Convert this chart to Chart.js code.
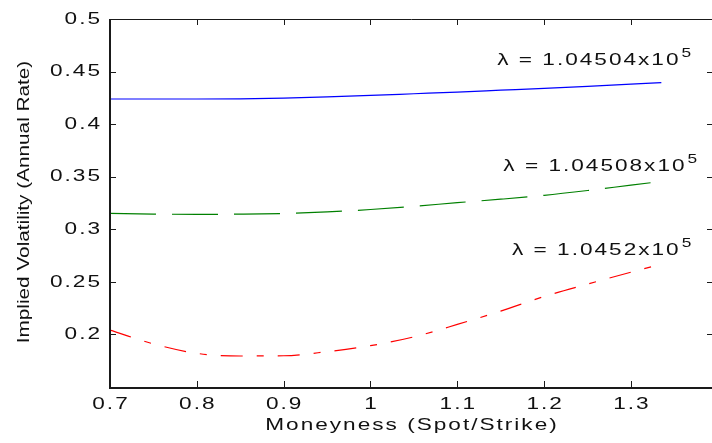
<!DOCTYPE html>
<html>
<head>
<meta charset="utf-8">
<title>Implied volatility vs moneyness</title>
<script src="https://cdn.jsdelivr.net/npm/chart.js@4/dist/chart.umd.min.js"></script>
<style>
  html, body { margin: 0; padding: 0; background: #fff; overflow: hidden; }
  canvas { display: block; }
</style>
</head>
<body>
<canvas id="graph" width="720" height="443"></canvas>
<script>
// moneyness grid shared by the three curves
const moneyness = [0.7, 0.75, 0.8, 0.85, 0.9, 0.95, 1.0, 1.05, 1.1, 1.15, 1.2, 1.25, 1.3, 1.335];

// implied volatility for each lambda
const volLambda04504 = [0.4239, 0.4239, 0.4239, 0.4241, 0.4248, 0.4259, 0.4273, 0.4289, 0.4305, 0.4323, 0.4341, 0.4360, 0.4380, 0.4395];
const volLambda04508 = [0.3151, 0.3145, 0.3142, 0.3144, 0.3150, 0.3165, 0.3188, 0.3218, 0.3253, 0.3286, 0.3323, 0.3369, 0.3420, 0.3455];
const volLambda0452  = [0.2041, 0.1910, 0.1820, 0.1795, 0.1797, 0.1836, 0.1893, 0.1977, 0.2095, 0.2222, 0.2361, 0.2479, 0.2592, 0.2669];

const xTicks = [0.7, 0.8, 0.9, 1.0, 1.1, 1.2, 1.3];
const yTicks = [0.2, 0.25, 0.3, 0.35, 0.4, 0.45, 0.5];

// curve labels, anchored in data coordinates (x, y of baseline start)
const labelText = ['\u03bb = 1.04504x10', '\u03bb = 1.04508x10', '\u03bb = 1.0452x10'];
const labelExp = ['5', '5', '5'];
const labelX = [1.146, 1.153, 1.163];
const labelY = [0.4562, 0.3554, 0.2755];

const FONT = '"Liberation Sans", Arial, sans-serif';
const STRETCH = 1.33;   // wide, loosely set lettering
const GAP = 2;

function toPoints(values) {
    return moneyness.map((m, i) => ({ x: m, y: values[i] }));
}

function fmt(v) {
    return String(+v.toFixed(2));
}

// width of a string once stretched and spaced
function wideWidth(ctx, text, sx, gap) {
    let w = 0;
    for (const ch of text) w += ctx.measureText(ch).width * sx;
    return w + gap * (text.length - 1);
}

// draws text char by char, stretched horizontally, starting at x
function wideText(ctx, text, x, y, sx, gap) {
    let cx = x;
    for (const ch of text) {
        ctx.save();
        ctx.translate(cx, y);
        ctx.scale(sx, 1);
        ctx.fillText(ch, 0, 0);
        ctx.restore();
        cx += ctx.measureText(ch).width * sx + gap;
    }
    return cx - gap;
}

// matlab-style box with inward ticks, tick labels, axis titles and curve labels
const frameAndText = {
    id: 'frameAndText',
    afterDraw(chart) {
        const ctx = chart.ctx;
        const a = chart.chartArea;
        const xs = chart.scales.x;
        const ys = chart.scales.y;
        const tl = 6;

        ctx.save();
        ctx.strokeStyle = '#1a1a1a';
        ctx.lineWidth = 1;
        ctx.beginPath();
        ctx.moveTo(a.left, a.top + 0.5);
        ctx.lineTo(a.right, a.top + 0.5);
        ctx.moveTo(a.right - 0.5, a.top);
        ctx.lineTo(a.right - 0.5, a.bottom);
        ctx.stroke();

        ctx.lineWidth = 2;
        ctx.beginPath();
        ctx.moveTo(a.left, a.top);
        ctx.lineTo(a.left, a.bottom + 1);
        ctx.lineTo(a.right, a.bottom + 1);
        ctx.stroke();

        ctx.lineWidth = 1;
        ctx.beginPath();
        xs.ticks.forEach(t => {
            const px = Math.round(xs.getPixelForValue(t.value)) + 0.5;
            ctx.moveTo(px, a.bottom);
            ctx.lineTo(px, a.bottom - tl);
            ctx.moveTo(px, a.top);
            ctx.lineTo(px, a.top + tl);
        });
        ys.ticks.forEach(t => {
            const py = Math.round(ys.getPixelForValue(t.value)) + 0.5;
            ctx.moveTo(a.left, py);
            ctx.lineTo(a.left + tl, py);
            ctx.moveTo(a.right, py);
            ctx.lineTo(a.right - tl, py);
        });
        ctx.stroke();

        ctx.fillStyle = '#111';
        ctx.textAlign = 'left';
        ctx.font = '17px ' + FONT;

        // tick labels
        ctx.textBaseline = 'middle';
        xs.ticks.forEach(t => {
            const s = t.label || fmt(t.value);
            const w = wideWidth(ctx, s, STRETCH, GAP);
            wideText(ctx, s, xs.getPixelForValue(t.value) - w / 2, 404, STRETCH, GAP);
        });
        ys.ticks.forEach(t => {
            const s = t.label || fmt(t.value);
            const w = wideWidth(ctx, s, STRETCH, GAP);
            wideText(ctx, s, a.left - 10 - w, ys.getPixelForValue(t.value), STRETCH, GAP);
        });

        // x title
        const xt = 'Moneyness (Spot/Strike)';
        const xw = wideWidth(ctx, xt, STRETCH, GAP);
        wideText(ctx, xt, 411 - xw / 2, 425, STRETCH, GAP);

        // y title, rotated
        ctx.save();
        ctx.translate(24, 202);
        ctx.rotate(-Math.PI / 2);
        ctx.scale(1.22, 1);
        ctx.textAlign = 'center';
        ctx.fillText('Implied Volatility (Annual Rate)', 0, 0);
        ctx.restore();

        // curve labels with superscript exponent
        ctx.textBaseline = 'alphabetic';
        labelText.forEach((t, i) => {
            const px = xs.getPixelForValue(labelX[i]);
            const py = ys.getPixelForValue(labelY[i]);
            ctx.font = '17px ' + FONT;
            const end = wideText(ctx, t, px, py, STRETCH, GAP);
            ctx.font = '13px ' + FONT;
            wideText(ctx, labelExp[i], end + GAP + 1, py - 8, STRETCH, GAP);
        });
        ctx.restore();
    }
};

new Chart(document.getElementById('graph').getContext('2d'), {
    type: 'line',
    data: {
        datasets: [
            {
                data: toPoints(volLambda04504),
                borderColor: '#0000ff',
                borderWidth: 1.2,
                pointRadius: 0,
                cubicInterpolationMode: 'monotone'
            },
            {
                data: toPoints(volLambda04508),
                borderColor: '#008000',
                borderWidth: 1.2,
                borderDash: [46, 16],
                pointRadius: 0,
                cubicInterpolationMode: 'monotone'
            },
            {
                data: toPoints(volLambda0452),
                borderColor: '#ff0000',
                borderWidth: 1.2,
                borderDash: [22, 14, 7, 14],
                pointRadius: 0,
                cubicInterpolationMode: 'monotone'
            }
        ]
    },
    options: {
        responsive: false,
        animation: false,
        devicePixelRatio: 1,
        layout: { padding: { top: 19, right: 7, left: 0, bottom: 0 } },
        plugins: { legend: { display: false }, tooltip: { enabled: false } },
        scales: {
            x: {
                type: 'linear',
                min: 0.7,
                max: 1.3945,
                afterBuildTicks: s => { s.ticks = xTicks.map(v => ({ value: v })); },
                afterFit: s => { s.height = 56; },
                grid: { display: false, drawTicks: false },
                border: { display: false },
                ticks: { display: false, autoSkip: false, callback: v => fmt(v) }
            },
            y: {
                type: 'linear',
                min: 0.15,
                max: 0.5,
                afterBuildTicks: s => { s.ticks = yTicks.map(v => ({ value: v })); },
                afterFit: s => { s.width = 110; },
                grid: { display: false, drawTicks: false },
                border: { display: false },
                ticks: { display: false, autoSkip: false, callback: v => fmt(v) }
            }
        }
    },
    plugins: [frameAndText]
});
</script>
</body>
</html>
